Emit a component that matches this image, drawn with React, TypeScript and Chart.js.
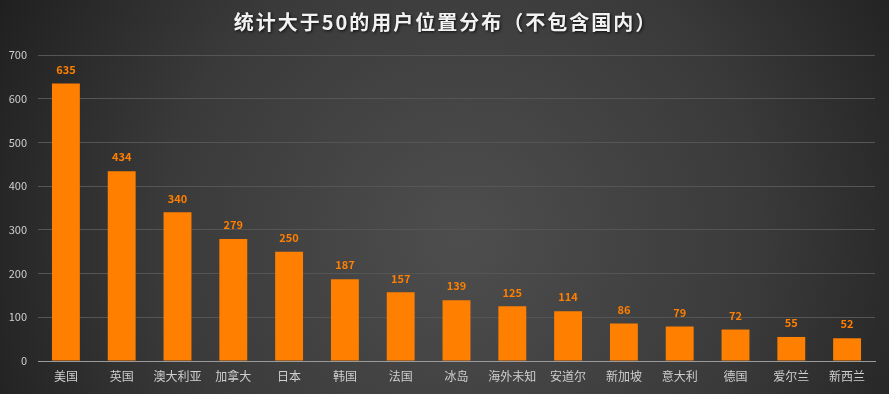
import React, { useEffect, useRef } from "react";
import { Chart, registerables } from "chart.js";

Chart.register(...registerables);

const categories = ["美国", "英国", "澳大利亚", "加拿大", "日本", "韩国", "法国", "冰岛", "海外未知", "安道尔", "新加坡", "意大利", "德国", "爱尔兰", "新西兰"];
const userCounts = [635, 434, 340, 279, 250, 187, 157, 139, 125, 114, 86, 79, 72, 55, 52];
const titleText = "统计大于50的用户位置分布（不包含国内）";
const yMax = 700;
const yStep = 100;

const FONT = "'Noto Sans CJK SC', 'Noto Sans', sans-serif";

const bgPlugin = {
  id: "bgPlugin",
  beforeDraw(chart: any) {
    const { ctx, width, height } = chart;
    ctx.save();
    const g = ctx.createRadialGradient(width * 0.52, height * 0.6, 10, width * 0.52, height * 0.6, width * 0.6);
    g.addColorStop(0, "#4d4d4d");
    g.addColorStop(0.55, "#3a3a3a");
    g.addColorStop(1, "#1e1e1e");
    ctx.fillStyle = g;
    ctx.fillRect(0, 0, width, height);
    ctx.restore();
  },
  afterDraw(chart: any) {
    const { ctx, width } = chart;
    ctx.save();
    ctx.font = `bold 20px ${FONT}`;
    try { (ctx as any).letterSpacing = "2px"; } catch (e) {}
    ctx.textAlign = "center";
    ctx.textBaseline = "middle";
    ctx.shadowColor = "rgba(0,0,0,0.8)";
    ctx.shadowBlur = 3;
    ctx.shadowOffsetX = 1;
    ctx.shadowOffsetY = 1;
    ctx.fillStyle = "#f2f2f2";
    ctx.fillText(titleText, width / 2 + 1, 22);
    ctx.restore();
  },
};

const labelPlugin = {
  id: "labelPlugin",
  afterDatasetsDraw(chart: any) {
    const { ctx } = chart;
    const meta = chart.getDatasetMeta(0);
    ctx.save();
    ctx.font = `bold 11px ${FONT}`;
    ctx.fillStyle = "#ff7f00";
    ctx.textAlign = "center";
    ctx.textBaseline = "middle";
    meta.data.forEach((bar: any, i: number) => {
      ctx.fillText(String(userCounts[i]), bar.x, bar.y - 14);
    });
    ctx.restore();
  },
};

export default function App() {
  const ref = useRef<HTMLCanvasElement>(null);
  useEffect(() => {
    document.body.style.margin = "0";
    const chart = new Chart(ref.current!, {
      type: "bar",
      data: {
        labels: categories,
        datasets: [
          {
            data: userCounts,
            backgroundColor: "#ff7f00",
            borderWidth: 0,
            categoryPercentage: 1,
            barPercentage: 0.5,
          },
        ],
      },
      options: {
        animation: false,
        responsive: false,
        maintainAspectRatio: false,
        layout: { padding: { top: 55, right: 14, left: 0, bottom: 0 } },
        plugins: { legend: { display: false }, title: { display: false }, tooltip: { enabled: false } },
        scales: {
          x: {
            grid: { display: false, drawTicks: false },
            border: { display: true, color: "#9a9a9a", width: 1 },
            ticks: { color: "#cfcfcf", font: { family: FONT, size: 12 }, padding: 8, maxRotation: 0, autoSkip: false },
            afterFit(scale: any) { scale.height = 33; },
          },
          y: {
            min: 0,
            max: yMax,
            grid: { color: "#555555", drawTicks: false },
            border: { display: false },
            ticks: { stepSize: yStep, color: "#cfcfcf", font: { family: FONT, size: 11 }, padding: 11 },
            afterFit(scale: any) { scale.width = 38; },
          },
        },
      },
      plugins: [bgPlugin, labelPlugin],
    });
    return () => chart.destroy();
  }, []);
  return <canvas ref={ref} width={889} height={394} style={{ display: "block" }} />;
}
